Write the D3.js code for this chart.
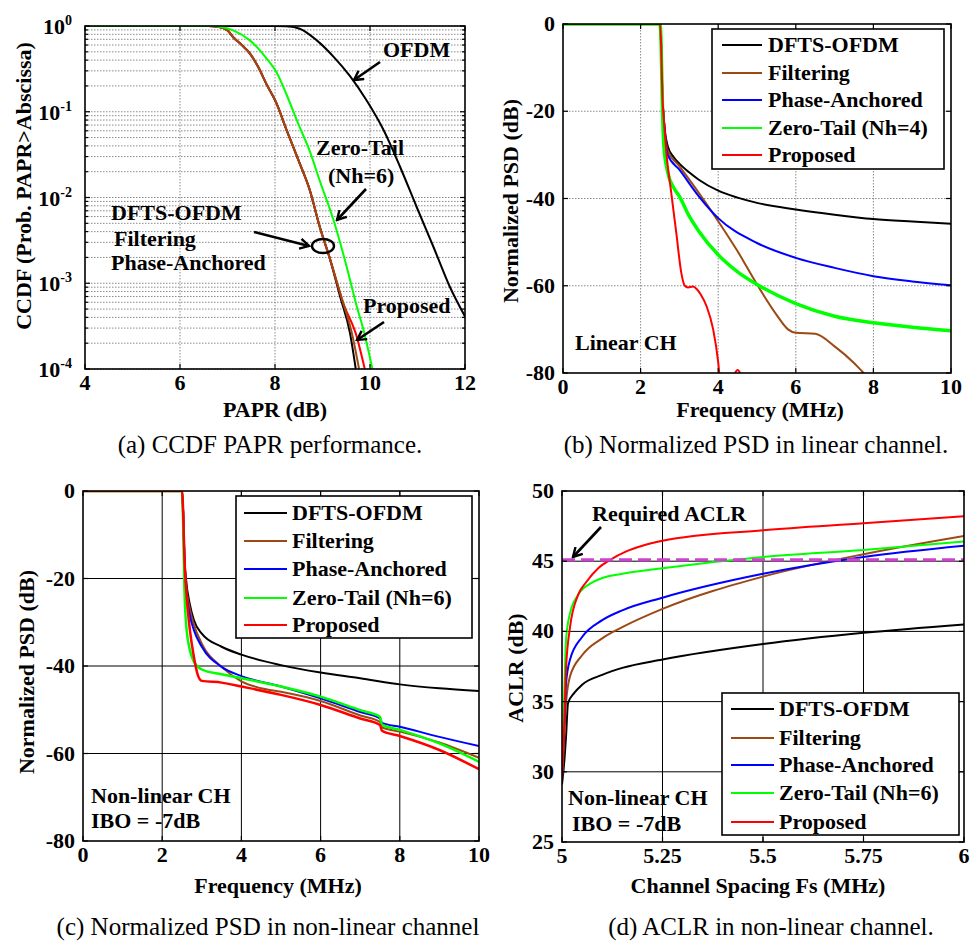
<!DOCTYPE html>
<html><head><meta charset="utf-8">
<script src="https://cdn.jsdelivr.net/npm/d3@7"></script>
<style>
body{margin:0;background:#fff}
text{font-family:"Liberation Serif","Times New Roman",Times,serif;fill:#000}
</style>
</head><body>
<svg id="c" width="979" height="941"></svg>
<script>
// ---------------- DATA ----------------
// (a) CCDF of PAPR
const aOfdmX   = [4, 8.0, 8.24, 8.52, 8.88, 9.23, 9.58, 9.93, 10.28, 10.63, 10.98, 11.33, 11.68, 12];
const aOfdmP   = [1, 1, 0.99, 0.93, 0.68, 0.44, 0.26, 0.135, 0.062, 0.023, 0.0078, 0.0027, 0.00091, 0.00041];
const aDftsX   = [4, 6.6, 6.8, 7.0, 7.12, 7.3, 7.47, 7.65, 7.82, 8.03, 8.24, 8.52, 8.73, 8.94, 9.16, 9.37, 9.58, 9.70];
const aDftsP   = [1, 1, 0.98, 0.89, 0.74, 0.60, 0.48, 0.33, 0.21, 0.126, 0.062, 0.025, 0.0123, 0.0046, 0.0019, 0.0007, 0.00026, 0.0001];
const aFiltX   = [4, 6.6, 6.8, 7.0, 7.12, 7.3, 7.47, 7.65, 7.82, 8.03, 8.24, 8.52, 8.73, 8.94, 9.16, 9.4, 9.62, 9.77];
const aFiltP   = [1, 1, 0.98, 0.89, 0.74, 0.60, 0.48, 0.33, 0.21, 0.126, 0.062, 0.025, 0.0123, 0.0046, 0.0019, 0.00068, 0.00026, 0.0001];
const aPropX   = [4, 6.6, 6.8, 7.0, 7.12, 7.3, 7.47, 7.65, 7.82, 8.03, 8.24, 8.52, 8.73, 8.94, 9.16, 9.45, 9.7, 9.89];
const aPropP   = [1, 1, 0.98, 0.89, 0.74, 0.60, 0.48, 0.33, 0.21, 0.126, 0.062, 0.025, 0.0123, 0.0046, 0.0019, 0.00056, 0.00026, 0.0001];
const aZtX     = [4, 6.7, 6.84, 7.12, 7.47, 7.82, 8.03, 8.24, 8.52, 8.73, 8.94, 9.23, 9.51, 9.72, 9.86, 10.05];
const aZtP     = [1, 1, 0.98, 0.89, 0.68, 0.42, 0.29, 0.16, 0.066, 0.035, 0.0158, 0.0055, 0.00155, 0.00054, 0.00029, 0.0001];
const aXTicks  = [4, 6, 8, 10, 12];
const aYExp    = [0, -1, -2, -3, -4];

// (b) PSD, linear channel
const bDftsX  = [0, 2.5, 2.53, 2.56, 2.6, 2.7, 2.85, 3, 3.25, 3.5, 4, 4.5, 5, 6, 7, 8, 9, 10];
const bDftsY  = [0, 0, -5, -16, -22, -28, -30.5, -32, -34, -35.7, -38.2, -39.8, -41, -42.5, -43.7, -44.7, -45.3, -45.8];
const bFiltX  = [0, 2.5, 2.53, 2.56, 2.6, 2.7, 3, 3.5, 4, 4.5, 5, 5.5, 5.8, 6, 6.5, 7, 7.5, 7.75, 8];
const bFiltY  = [0, 0, -5, -16, -22, -29, -32.6, -38.7, -45.2, -52.1, -59.7, -66.6, -70, -70.8, -71, -73.9, -77.7, -80, -82];
const bPhaseX = [0, 2.5, 2.53, 2.56, 2.6, 2.7, 3, 3.5, 4, 5, 6, 7, 8, 9, 10];
const bPhaseY = [0, 0, -5, -16, -22, -30, -33.4, -39.5, -44.5, -50.2, -53.6, -55.9, -57.8, -59, -59.9];
const bZtX    = [0, 2.5, 2.53, 2.56, 2.6, 2.7, 2.85, 3, 3.25, 3.5, 4, 4.5, 5, 6, 7, 8, 9, 10];
const bZtY    = [0, 0, -5, -18, -28, -34, -37.5, -39.5, -44, -47.5, -52.9, -56.8, -59.7, -64.1, -67, -68.5, -69.5, -70.3];
const bPropX  = [0, 2.5, 2.53, 2.56, 2.6, 2.67, 2.79, 2.92, 3.05, 3.14, 3.22, 3.35, 3.45, 3.55, 3.7, 3.87, 4.0, 4.05, 4.2, 4.4, 4.5, 4.6, 4.8];
const bPropY  = [0, 0, -5, -16, -22, -30, -38.7, -47.9, -57.1, -60, -60.4, -60.2, -60.8, -62, -64.7, -70, -77.5, -82, -86, -80.6, -79.3, -80.6, -86];

// (c) PSD, non-linear channel
const cDftsX  = [0, 2.5, 2.53, 2.56, 2.6, 2.7, 2.8, 3, 3.5, 4, 5, 6, 7, 8, 9, 10];
const cDftsY  = [0, 0, -5, -15, -20, -26, -29.5, -32.6, -35.6, -37.4, -39.8, -41.5, -42.8, -44.2, -45.1, -45.7];
const cFiltX  = [0, 2.5, 2.53, 2.56, 2.6, 2.7, 2.8, 3, 3.5, 4, 4.5, 5, 6, 7, 7.5, 7.55, 8, 9, 10];
const cFiltY  = [0, 0, -5, -15, -21, -27, -30.5, -34.9, -40.2, -43.5, -45.1, -45.9, -48, -51.3, -52.8, -54, -55, -57.5, -61];
const cPhaseX = [0, 2.5, 2.53, 2.56, 2.6, 2.7, 2.8, 3, 3.5, 4, 5, 6, 7, 7.5, 7.55, 8, 9, 10];
const cPhaseY = [0, 0, -5, -15, -22, -28.5, -31.8, -35.6, -40.2, -42.3, -44.7, -47.4, -50.5, -52, -53, -53.9, -56.2, -58.3];
const cZtX    = [0, 2.5, 2.53, 2.56, 2.6, 2.7, 2.8, 3, 3.5, 4, 5, 6, 7, 7.5, 7.55, 8, 9, 10];
const cZtY    = [0, 0, -8, -22, -30, -36.4, -39, -40.8, -41.9, -42.8, -44.7, -47, -50.1, -51.6, -53.4, -54.6, -57.7, -61.9];
const cPropX  = [0, 2.5, 2.53, 2.56, 2.6, 2.7, 2.8, 2.9, 3, 3.5, 4, 5, 6, 7, 7.5, 7.55, 8, 9, 10];
const cPropY  = [0, 0, -5, -15, -22, -31.8, -37.9, -42.1, -43.4, -43.8, -44.7, -46.6, -48.9, -52, -53.5, -54.8, -56, -59.2, -63.6];
const psdXTicks = [0, 2, 4, 6, 8, 10];
const psdYTicks = [0, -20, -40, -60, -80];

// (d) ACLR vs channel spacing
const dDftsX  = [5, 5.005, 5.01, 5.015, 5.03, 5.05, 5.1, 5.15, 5.25, 5.5, 5.75, 6];
const dDftsY  = [29.1, 30.5, 32.5, 34.9, 35.6, 36.2, 36.9, 37.4, 38.0, 39.1, 39.9, 40.5];
const dFiltX  = [5, 5.005, 5.01, 5.02, 5.05, 5.1, 5.15, 5.25, 5.5, 5.75, 6];
const dFiltY  = [29.5, 32, 34.9, 36.8, 38.3, 39.5, 40.3, 41.6, 43.9, 45.5, 46.8];
const dPhaseX = [5, 5.005, 5.01, 5.02, 5.05, 5.1, 5.15, 5.25, 5.5, 5.75, 6];
const dPhaseY = [29.5, 33, 36.3, 38, 39.6, 40.8, 41.5, 42.4, 44.1, 45.3, 46.1];
const dZtX    = [5, 5.005, 5.01, 5.02, 5.04, 5.07, 5.1, 5.15, 5.25, 5.5, 5.75, 6];
const dZtY    = [30, 34.9, 39.4, 41.3, 42.6, 43.4, 43.8, 44.1, 44.5, 45.3, 45.8, 46.4];
const dPropX  = [5, 5.005, 5.01, 5.02, 5.04, 5.06, 5.09, 5.12, 5.16, 5.2, 5.25, 5.5, 5.75, 6];
const dPropY  = [29.5, 33, 37.3, 40.3, 42.6, 43.5, 44.5, 45.1, 45.7, 46.1, 46.45, 47.2, 47.7, 48.2];
const dReqX   = [5, 6];
const dReqY   = [45.1, 45.1];
const dXTicks = [5, 5.25, 5.5, 5.75, 6];
const dXTickLabels = ["5", "5.25", "5.5", "5.75", "6"];
const dYTicks = [25, 30, 35, 40, 45, 50];

const names = ["DFTS-OFDM", "Filtering", "Phase-Anchored", "Zero-Tail (Nh=4)", "Proposed"];
const namesNL = ["DFTS-OFDM", "Filtering", "Phase-Anchored", "Zero-Tail (Nh=6)", "Proposed"];
const COL = {black:"#000000", brown:"#9c4a14", blue:"#0000ff", green:"#00ff00", red:"#ff0000", mag:"#cc44cc"};
const legendColors = [COL.black, COL.brown, COL.blue, COL.green, COL.red];

// ---------------- DRAWING ----------------
const svg = d3.select("#c");
const defs = svg.append("defs");
defs.append("marker").attr("id","arr").attr("viewBox","0 0 12 12").attr("refX",10).attr("refY",6)
  .attr("markerWidth",12).attr("markerHeight",12).attr("markerUnits","userSpaceOnUse").attr("orient","auto")
  .append("path").attr("d","M1,1 L10,6 L1,11").attr("fill","none").attr("stroke","#000").attr("stroke-width",2.4);

const FS = 22; // tick label size
let clipId = 0;

function zip(xs, ys){ return xs.map((x,i)=>[x, ys[i]]); }

function panel(o){
  const g = svg.append("g");
  const x = o.x, y = o.y;
  const [L,R] = x.range(), [B,T] = y.range();
  const gs = o.dotted ? {stroke:"#8a8a8a", dash:"1.5,1.5", w:1} : {stroke:"#000", dash:null, w:1};
  const grid = g.append("g");
  o.gridX.forEach(v=>{ grid.append("line").attr("x1",x(v)).attr("x2",x(v)).attr("y1",T).attr("y2",B)
     .attr("stroke",gs.stroke).attr("stroke-width",gs.w).attr("stroke-dasharray",gs.dash); });
  o.gridY.forEach(v=>{ grid.append("line").attr("y1",y(v)).attr("y2",y(v)).attr("x1",L).attr("x2",R)
     .attr("stroke",gs.stroke).attr("stroke-width",gs.w).attr("stroke-dasharray",gs.dash); });
  const id = "clip"+(clipId++);
  defs.append("clipPath").attr("id",id).append("rect").attr("x",L).attr("y",T).attr("width",R-L).attr("height",B-T);
  const lines = g.append("g").attr("clip-path",`url(#${id})`);
  o.series.forEach(s=>{
    const line = d3.line().x(d=>x(d[0])).y(d=>y(d[1])).curve(d3.curveMonotoneX);
    lines.append("path").attr("d",line(s.data)).attr("fill","none").attr("stroke",s.color)
      .attr("stroke-width",s.w||2).attr("stroke-dasharray",s.dash||null).attr("stroke-linejoin","round");
  });
  g.append("rect").attr("x",L).attr("y",T).attr("width",R-L).attr("height",B-T)
    .attr("fill","none").attr("stroke","#000").attr("stroke-width",1.6);
  const tk = g.append("g").attr("stroke","#000").attr("stroke-width",1.2);
  o.xTicks.forEach(v=>{
    tk.append("line").attr("x1",x(v)).attr("x2",x(v)).attr("y1",B).attr("y2",B-5);
    tk.append("line").attr("x1",x(v)).attr("x2",x(v)).attr("y1",T).attr("y2",T+5);
  });
  (o.yTickMarks||o.yTicks).forEach(v=>{
    const len = (o.yMinor && o.yMinor.includes(v)) ? 3 : 5;
    tk.append("line").attr("y1",y(v)).attr("y2",y(v)).attr("x1",L).attr("x2",L+len);
    tk.append("line").attr("y1",y(v)).attr("y2",y(v)).attr("x1",R).attr("x2",R-len);
  });
  o.xTicks.forEach((v,i)=>{
    g.append("text").attr("x",x(v)).attr("y",B+21).attr("text-anchor","middle")
      .attr("font-size",FS).attr("font-weight","bold").text(o.xTickLabels?o.xTickLabels[i]:v);
  });
  if(!o.customY){
    o.yTicks.forEach((v,i)=>{
      g.append("text").attr("x",L-8).attr("y",y(v)+7).attr("text-anchor","end")
        .attr("font-size",FS).attr("font-weight","bold").text(v);
    });
  }
  g.append("text").attr("x",o.xTitlePos[0]).attr("y",o.xTitlePos[1]).attr("text-anchor","middle")
    .attr("font-size",22).attr("font-weight","bold").text(o.xTitle);
  g.append("text").attr("transform",`translate(${o.yTitlePos[0]},${o.yTitlePos[1]}) rotate(-90)`)
    .attr("text-anchor","middle").attr("font-size",22).attr("font-weight","bold").text(o.yTitle);
  g.append("text").attr("x",o.caption[1]).attr("y",o.caption[2]).attr("text-anchor","middle")
    .attr("font-size",25).text(o.caption[0]);
  return g;
}

function legend(g, box, entries, colors){
  const [x0,y0,x1,y1,ys,lx0,lx1,tx] = box;
  g.append("rect").attr("x",x0).attr("y",y0).attr("width",x1-x0).attr("height",y1-y0)
    .attr("fill","#fff").attr("stroke","#000").attr("stroke-width",1.6);
  entries.forEach((t,i)=>{
    g.append("line").attr("x1",lx0).attr("x2",lx1).attr("y1",ys[i]).attr("y2",ys[i])
      .attr("stroke",colors[i]).attr("stroke-width",2);
    g.append("text").attr("x",tx).attr("y",ys[i]+7).attr("font-size",22).attr("font-weight","bold").text(t);
  });
}
function label(g, t, x, y, anchor){
  g.append("text").attr("x",x).attr("y",y).attr("font-size",22).attr("font-weight","bold")
    .attr("text-anchor",anchor||"start").text(t);
}
function arrow(g, x1,y1,x2,y2){
  g.append("line").attr("x1",x1).attr("y1",y1).attr("x2",x2).attr("y2",y2)
    .attr("stroke","#000").attr("stroke-width",2.6).attr("marker-end","url(#arr)");
}

// ---- Panel (a)
{
  const x = d3.scaleLinear().domain([4,12]).range([85,465]);
  const y = d3.scaleLog().domain([1e-4,1]).range([369,26]);
  const minor = [];
  aYExp.slice(1).forEach(e=>{ for(let k=2;k<=9;k++) minor.push(k*Math.pow(10,e)); });
  const majors = aYExp.map(e=>Math.pow(10,e));
  const g = panel({x,y,dotted:true,gridX:[6,8,10],gridY:majors.concat(minor),
    xTicks:aXTicks, yTicks:majors, yTickMarks:majors.concat(minor), yMinor:minor, customY:true,
    series:[
      {data:zip(aOfdmX,aOfdmP),color:COL.black},
      {data:zip(aDftsX,aDftsP),color:COL.black},
      {data:zip(aPropX,aPropP),color:COL.red},
      {data:zip(aFiltX,aFiltP),color:COL.brown},
      {data:zip(aZtX,aZtP),color:COL.green},
    ],
    xTitle:"PAPR (dB)", xTitlePos:[275,417], yTitle:"CCDF (Prob. PAPR>Abscissa)", yTitlePos:[31,186],
    caption:["(a) CCDF PAPR performance.",270,453]});
  aYExp.forEach(e=>{
    const t = g.append("text").attr("x",72).attr("y",y(Math.pow(10,e))+8).attr("text-anchor","end")
      .attr("font-size",FS).attr("font-weight","bold");
    t.append("tspan").text("10");
    t.append("tspan").attr("dy",-9).attr("font-size",14).text(e);
  });
  label(g,"OFDM",383,57); arrow(g,380,62,354,80);
  label(g,"Zero-Tail",316,155); label(g,"(Nh=6)",328,183); arrow(g,366,189,337,220);
  label(g,"DFTS-OFDM",111,220); label(g,"Filtering",114,246); label(g,"Phase-Anchored",111,270);
  arrow(g,254,232,309,246);
  g.append("ellipse").attr("cx",323).attr("cy",246).attr("rx",11).attr("ry",7)
    .attr("fill","none").attr("stroke","#000").attr("stroke-width",2.4);
  label(g,"Proposed",363,313); arrow(g,384,322,357,340);
}

// ---- Panel (b)
{
  const x = d3.scaleLinear().domain([0,10]).range([563,951]);
  const y = d3.scaleLinear().domain([-80,0]).range([373,24]);
  const g = panel({x,y,dotted:true,gridX:[2,4,6,8],gridY:[-20,-40,-60],
    xTicks:psdXTicks, yTicks:psdYTicks,
    series:[
      {data:zip(bDftsX,bDftsY),color:COL.black},
      {data:zip(bFiltX,bFiltY),color:COL.brown},
      {data:zip(bPhaseX,bPhaseY),color:COL.blue},
      {data:zip(bZtX,bZtY),color:COL.green,w:3.5},
      {data:zip(bPropX,bPropY),color:COL.red},
    ],
    xTitle:"Frequency (MHz)", xTitlePos:[760,417], yTitle:"Normalized PSD (dB)", yTitlePos:[518,201],
    caption:["(b) Normalized PSD in linear channel.",756,453]});
  legend(g,[712,29,944,169,[45,73,100,128,155],722,762,768],names,legendColors);
  label(g,"Linear CH",575,350);
}

// ---- Panel (c)
{
  const x = d3.scaleLinear().domain([0,10]).range([83,479]);
  const y = d3.scaleLinear().domain([-80,0]).range([841,491]);
  const g = panel({x,y,dotted:false,gridX:[2,4,6,8],gridY:[-20,-40,-60],
    xTicks:psdXTicks, yTicks:psdYTicks,
    series:[
      {data:zip(cDftsX,cDftsY),color:COL.black},
      {data:zip(cFiltX,cFiltY),color:COL.brown},
      {data:zip(cPhaseX,cPhaseY),color:COL.blue},
      {data:zip(cZtX,cZtY),color:COL.green,w:2.5},
      {data:zip(cPropX,cPropY),color:COL.red,w:2.5},
    ],
    xTitle:"Frequency (MHz)", xTitlePos:[278,893], yTitle:"Normalized PSD (dB)", yTitlePos:[34,672],
    caption:["(c) Normalized PSD in non-linear channel",268,935]});
  legend(g,[236,496,472,638,[513,541,569,598,625],244,287,292],namesNL,legendColors);
  label(g,"Non-linear CH",91,803); label(g,"IBO = -7dB",91,828);
}

// ---- Panel (d)
{
  const x = d3.scaleLinear().domain([5,6]).range([562,964]);
  const y = d3.scaleLinear().domain([25,50]).range([842,491]);
  const g = panel({x,y,dotted:false,gridX:[5.25,5.5,5.75],gridY:[30,35,40,45],
    xTicks:dXTicks, xTickLabels:dXTickLabels, yTicks:dYTicks,
    series:[
      {data:zip(dDftsX,dDftsY),color:COL.black},
      {data:zip(dFiltX,dFiltY),color:COL.brown},
      {data:zip(dPhaseX,dPhaseY),color:COL.blue},
      {data:zip(dZtX,dZtY),color:COL.green},
      {data:zip(dPropX,dPropY),color:COL.red},
      {data:zip(dReqX,dReqY),color:COL.mag,w:3.2,dash:"13,6"},
    ],
    xTitle:"Channel Spacing Fs (MHz)", xTitlePos:[758,893], yTitle:"ACLR (dB)", yTitlePos:[523,668],
    caption:["(d) ACLR in non-linear channel.",771,935]});
  legend(g,[722,693,959,835,[709,738,765,793,822],731,774,779],namesNL,legendColors);
  label(g,"Required ACLR",592,521); arrow(g,601,527,573,557);
  label(g,"Non-linear CH",568,805); label(g,"IBO = -7dB",572,831);
}
</script>
</body></html>
